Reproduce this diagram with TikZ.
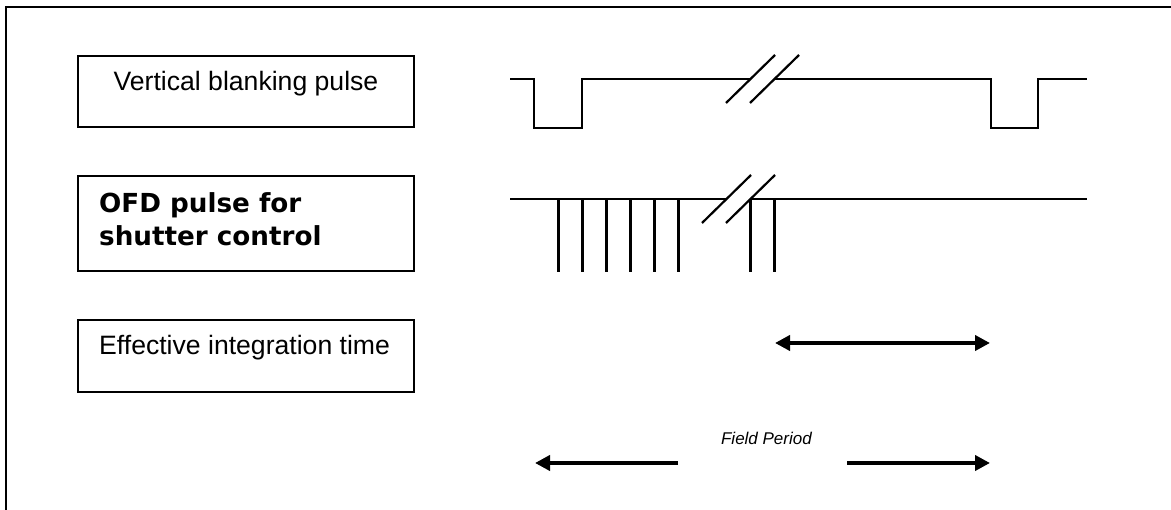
\documentclass[tikz,border=0pt]{standalone}
\usepackage{fontspec}
\setmainfont{Liberation Sans}
\newfontfamily\vfont{DejaVu Sans}
\usetikzlibrary{arrows.meta}
\begin{document}
\begin{tikzpicture}[x=1pt,y=-1pt,
  box/.style={draw, rectangle, line width=2pt, inner sep=0pt, minimum width=336pt},
  lbl/.style={inner sep=0pt, font=\fontsize{26.6}{30}\selectfont},
  boldlbl/.style={inner sep=0pt, font=\vfont\bfseries\fontsize{26.2}{30}\selectfont},
  wave/.style={line width=2.2pt, line join=miter},
  bigarrow/.style={line width=4.2pt, -{Triangle[length=15pt,width=15pt]}},
  dblarrow/.style={line width=4.2pt, {Triangle[length=15pt,width=15pt]}-{Triangle[length=15pt,width=15pt]}}]
\useasboundingbox (0,0) rectangle (1171,510);
% outer frame (right and bottom edges lie outside the picture)
\draw[line width=2.2pt] (1171,7) -- (6,7) -- (6,510);
% label boxes
\node[box, minimum height=71pt] (b1) at (246,91.5) {};
\node[box, minimum height=95pt] (b2) at (246,223.5) {};
\node[box, minimum height=72pt] (b3) at (246,356) {};
\node[lbl, anchor=base] (t1) at (246,91) {Vertical blanking pulse};
\node[boldlbl, anchor=base west] (t2a) at (99,213) {OFD pulse for};
\node[boldlbl, anchor=base west] (t2b) at (99,246) {shutter control};
\node[lbl, anchor=base west] (t3) at (99,355) {Effective integration time};
% vertical blanking pulse waveform
\draw[wave] (510,79) -- (534,79) -- (534,128) -- (582,128) -- (582,79) -- (750.5,79);
\draw[wave] (774.5,79) -- (991,79) -- (991,128) -- (1038,128) -- (1038,79) -- (1087,79);
\draw[wave] (726,103) -- (775,55);
\draw[wave] (750,103) -- (799,55);
% OFD pulse waveform
\draw[wave] (510,199) -- (726.5,199);
\draw[wave] (750.5,199) -- (1087,199);
\foreach \x in {558.5,582.5,606.5,630.5,654.5,678.5,750.5,774.5}
  \draw[wave] (\x,199) -- (\x,272);
\draw[wave] (702,223) -- (751,175);
\draw[wave] (726,223) -- (775,175);
% effective integration time arrow
\coordinate (e1) at (775,343);
\coordinate (e2) at (990,343);
\draw[dblarrow] (e1) -- (e2);
% field period
\node[inner sep=0pt, anchor=base east, font=\itshape\fontsize{17}{20}\selectfont] (fp) at (812,445) {Field Period};
\coordinate (f1s) at (678,463);
\coordinate (f1e) at (535,463);
\coordinate (f2s) at (847,463);
\coordinate (f2e) at (990,463);
\draw[bigarrow] (f1s) -- (f1e);
\draw[bigarrow] (f2s) -- (f2e);
\end{tikzpicture}
\end{document}
